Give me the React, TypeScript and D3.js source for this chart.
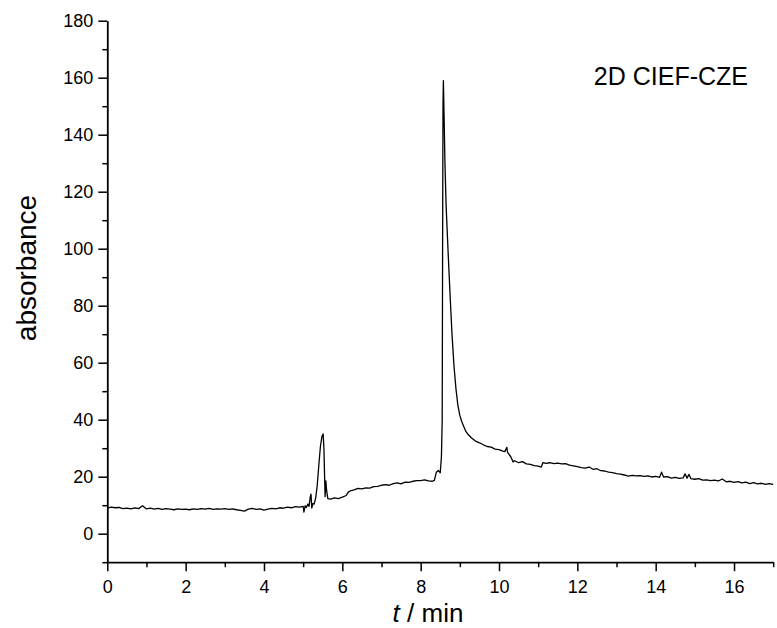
import React, { useEffect, useRef } from 'react';
import * as d3 from 'd3';

// baseline before the first peak (t in min, absorbance)
const baseline: [number, number][] = [
  [0.0, 9.0], [0.1, 9.3], [0.2, 9.1], [0.3, 9.2], [0.4, 8.8], [0.5, 9.0], [0.6, 8.7], [0.7, 9.1],
  [0.8, 8.8], [0.9, 9.8], [1.0, 8.7], [1.1, 9.0], [1.2, 8.6], [1.3, 8.9], [1.4, 8.5], [1.5, 8.8],
  [1.6, 8.6], [1.7, 8.4], [1.8, 8.7], [1.9, 8.5], [2.0, 8.6], [2.1, 8.4], [2.2, 8.7], [2.3, 8.5],
  [2.4, 8.8], [2.5, 8.6], [2.6, 8.9], [2.7, 8.5], [2.8, 8.7], [2.9, 8.6], [3.0, 8.8], [3.1, 8.5],
  [3.2, 8.7], [3.3, 8.4], [3.4, 8.2], [3.5, 7.9], [3.6, 8.6], [3.7, 8.9], [3.8, 8.5], [3.9, 8.7],
  [4.0, 8.3], [4.1, 8.6], [4.2, 8.9], [4.3, 8.7], [4.4, 9.1], [4.5, 9.0], [4.6, 9.3], [4.7, 9.1],
  [4.8, 9.5], [4.9, 9.3], [5.0, 9.6],
];

// small peak around 5.5 min
const peakOne: [number, number][] = [
  [5.02, 7.6], [5.05, 9.8], [5.08, 9.2], [5.12, 10.4], [5.15, 9.6], [5.18, 12.8], [5.2, 13.9],
  [5.22, 9.0], [5.25, 10.6], [5.28, 10.4], [5.32, 12.5], [5.36, 17.0], [5.4, 24.0], [5.44, 30.5],
  [5.48, 34.2], [5.51, 35.0], [5.53, 30.0], [5.56, 13.0], [5.58, 18.5], [5.6, 15.0], [5.63, 12.3],
];

// rising baseline between the peaks
const middle: [number, number][] = [
  [5.7, 12.1], [5.8, 12.6], [5.9, 12.3], [6.0, 12.8], [6.1, 13.4], [6.15, 14.6], [6.2, 15.0],
  [6.3, 15.4], [6.4, 15.9], [6.5, 15.7], [6.6, 16.1], [6.7, 16.0], [6.8, 16.5], [6.9, 16.6],
  [7.0, 17.0], [7.1, 17.2], [7.2, 17.0], [7.3, 17.6], [7.4, 17.8], [7.5, 17.5], [7.6, 18.1],
  [7.7, 18.0], [7.8, 18.4], [7.9, 18.6], [8.0, 18.6], [8.1, 18.9], [8.2, 18.5], [8.3, 18.4],
  [8.35, 18.7], [8.4, 21.6], [8.45, 22.2], [8.5, 21.4],
];

// main peak at 8.6 min
const peakTwo: [number, number][] = [
  [8.53, 27.0], [8.55, 40], [8.56, 100], [8.57, 150], [8.58, 159], [8.6, 145], [8.62, 130],
  [8.65, 115], [8.7, 99], [8.75, 84], [8.8, 70], [8.85, 59], [8.9, 51], [8.95, 45], [9.0, 41.5],
  [9.05, 39.3], [9.1, 37.6], [9.15, 36.0], [9.2, 35.0], [9.3, 33.6], [9.4, 32.5], [9.5, 31.9],
  [9.6, 31.2], [9.7, 30.6], [9.8, 30.4], [9.9, 29.7], [10.0, 29.5], [10.1, 29.0], [10.15, 28.8],
  [10.2, 30.3], [10.22, 28.5], [10.3, 27.0], [10.36, 25.2],
];

// slow decay to the end
const tail: [number, number][] = [
  [10.4, 25.6], [10.5, 24.9], [10.6, 25.3], [10.7, 24.5], [10.8, 24.3], [10.9, 23.9], [11.0, 23.7],
  [11.08, 23.4], [11.12, 24.9], [11.2, 24.7], [11.3, 24.9], [11.4, 24.6], [11.5, 24.8], [11.6, 24.5],
  [11.7, 24.6], [11.8, 24.1], [11.9, 23.8], [12.0, 23.5], [12.1, 23.2], [12.2, 23.0], [12.3, 23.4],
  [12.4, 22.6], [12.5, 22.8], [12.6, 22.1], [12.7, 22.0], [12.8, 21.6], [12.9, 21.4], [13.0, 21.1],
  [13.1, 20.9], [13.2, 20.6], [13.3, 20.2], [13.4, 20.5], [13.5, 20.3], [13.6, 20.4], [13.7, 20.1],
  [13.8, 20.3], [13.9, 19.9], [14.0, 20.1], [14.1, 19.8], [14.15, 21.6], [14.2, 19.9], [14.3, 20.0],
  [14.4, 19.5], [14.5, 19.8], [14.6, 19.4], [14.7, 19.6], [14.75, 21.0], [14.8, 19.5], [14.85, 20.8],
  [14.9, 19.3], [15.0, 19.1], [15.1, 19.3], [15.2, 18.8], [15.3, 18.9], [15.4, 18.6], [15.5, 18.8],
  [15.6, 18.5], [15.7, 19.2], [15.8, 18.2], [15.9, 18.4], [16.0, 18.0], [16.1, 18.3], [16.2, 17.8],
  [16.3, 18.1], [16.4, 17.6], [16.5, 17.9], [16.6, 17.5], [16.7, 17.7], [16.8, 17.3], [16.9, 17.6],
  [17.0, 17.3],
];

const xMajor = [0, 2, 4, 6, 8, 10, 12, 14, 16];
const xMinor = [1, 3, 5, 7, 9, 11, 13, 15, 17];
const yMajor = [0, 20, 40, 60, 80, 100, 120, 140, 160, 180];
const yMinor = [-10, 10, 30, 50, 70, 90, 110, 130, 150, 170];

const App = () => {
  const ref = useRef<SVGSVGElement>(null);

  useEffect(() => {
    document.body.style.margin = '0';
    const width = 777;
    const height = 628;
    const margin = { top: 20.7, right: 3.8, bottom: 65.8, left: 107.3 };
    const font = 'Arial, "Liberation Sans", sans-serif';

    const svg = d3.select(ref.current);
    svg.selectAll('*').remove();

    const x = d3.scaleLinear().domain([0, 17]).range([margin.left, width - margin.right]);
    const y = d3.scaleLinear().domain([-10, 180]).range([height - margin.bottom, margin.top]);

    const data = [...baseline, ...peakOne, ...middle, ...peakTwo, ...tail];

    // minor ticks first
    svg.append('g')
      .attr('transform', `translate(0, ${height - margin.bottom})`)
      .call(d3.axisBottom(x).tickValues(xMinor).tickSize(5).tickFormat(() => ''))
      .call(g => g.select('.domain').remove());
    svg.append('g')
      .attr('transform', `translate(${margin.left}, 0)`)
      .call(d3.axisLeft(y).tickValues(yMinor).tickSize(5).tickFormat(() => ''))
      .call(g => g.select('.domain').remove());

    const xAxis = svg.append('g')
      .attr('transform', `translate(0, ${height - margin.bottom})`)
      .call(d3.axisBottom(x).tickValues(xMajor).tickSize(9).tickSizeOuter(0).tickPadding(9));
    const yAxis = svg.append('g')
      .attr('transform', `translate(${margin.left}, 0)`)
      .call(d3.axisLeft(y).tickValues(yMajor).tickSize(9).tickSizeOuter(0).tickPadding(5));

    [xAxis, yAxis].forEach(g => {
      g.selectAll('text').style('font-family', font).style('font-size', '18px').attr('fill', '#000');
    });
    svg.selectAll('.tick line').attr('stroke', '#000').attr('stroke-width', 1.5);
    svg.selectAll('.domain').attr('stroke', '#000').attr('stroke-width', 1.8);

    const line = d3.line<[number, number]>()
      .x(d => x(d[0]))
      .y(d => y(d[1]));

    svg.append('path')
      .datum(data)
      .attr('fill', 'none')
      .attr('stroke', '#000')
      .attr('stroke-width', 1.3)
      .attr('stroke-linejoin', 'round')
      .attr('d', line);

    svg.append('text')
      .attr('transform', `translate(36, 268) rotate(-90)`)
      .style('text-anchor', 'middle')
      .style('font-family', font)
      .style('font-size', '28px')
      .text('absorbance');

    const xl = svg.append('text')
      .attr('x', 428)
      .attr('y', 622)
      .style('text-anchor', 'middle')
      .style('font-family', font)
      .style('font-size', '26px');
    xl.append('tspan').style('font-style', 'italic').text('t');
    xl.append('tspan').text(' / min');

    svg.append('text')
      .attr('x', 748)
      .attr('y', 85)
      .style('text-anchor', 'end')
      .style('font-family', font)
      .style('font-size', '25px')
      .text('2D CIEF-CZE');
  }, []);

  return <svg ref={ref} width={777} height={628} style={{ display: 'block' }} />;
};

export default App;
